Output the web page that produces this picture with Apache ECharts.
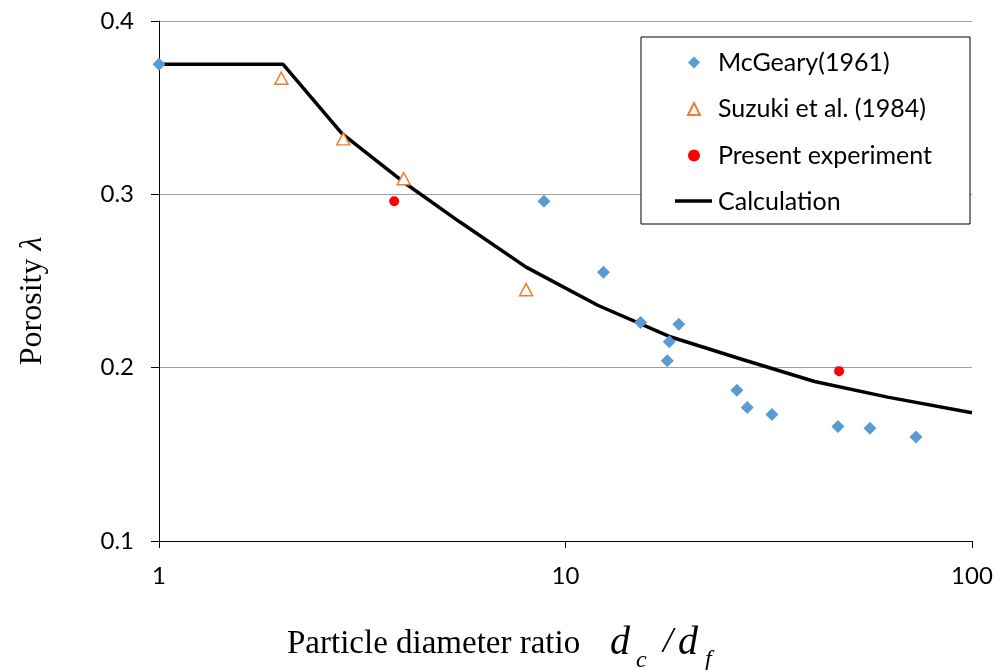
<!DOCTYPE html>
<html>
<head>
<meta charset="utf-8">
<script src="https://cdn.jsdelivr.net/npm/echarts@6/dist/echarts.min.js"></script>
<style>html,body{margin:0;padding:0;background:#fff}#c{width:996px;height:670px}</style>
</head>
<body>
<div id="c"></div>
<script>
// ---- data ----
const mcgearyX = [1, 8.85, 12.4, 15.3, 19.0, 18.0, 17.8, 26.4, 28.0, 32.2, 46.8, 56.1, 72.8];
const mcgearyY = [0.375, 0.296, 0.255, 0.226, 0.225, 0.215, 0.204, 0.187, 0.177, 0.173, 0.166, 0.165, 0.160];
const suzukiX = [2.0, 2.84, 4.0, 8.0];
const suzukiY = [0.367, 0.332, 0.309, 0.245];
const presentX = [3.79, 47.1];
const presentY = [0.296, 0.198];
const calcX = [1, 2.02, 2.82, 3.4, 4, 5.5, 8, 12, 18, 27, 41, 62, 100];
const calcY = [0.375, 0.375, 0.335, 0.320, 0.307, 0.284, 0.258, 0.236, 0.218, 0.205, 0.192, 0.183, 0.174];
const seriesNames = ['McGeary(1961)', 'Suzuki et al. (1984)', 'Present experiment', 'Calculation'];
const yTicks = [0.1, 0.2, 0.3, 0.4];
const xTicks = [1, 10, 100];

const zip = (xs, ys) => xs.map((x, i) => [x, ys[i]]);

const chart = echarts.init(document.getElementById('c'), null, {renderer: 'canvas'});
const tickFont = {fontFamily: 'Lato', fontSize: 24, color: '#000'};

chart.setOption({
  animation: false,
  backgroundColor: '#fff',
  grid: {left: 159, right: 24, top: 21, bottom: 129, containLabel: false},
  xAxis: {
    type: 'log', logBase: 10, min: xTicks[0], max: xTicks[xTicks.length - 1],
    axisLine: {show: true, lineStyle: {color: '#000', width: 1}},
    axisTick: {show: true, length: 7, inside: false, lineStyle: {color: '#000'}},
    minorTick: {show: false},
    splitLine: {show: false},
    axisLabel: Object.assign({margin: 23, formatter: v => String(Math.round(v))}, tickFont)
  },
  yAxis: {
    type: 'value', min: yTicks[0], max: yTicks[yTicks.length - 1], interval: 0.1,
    axisLine: {show: true, lineStyle: {color: '#000', width: 1}},
    axisTick: {show: true, length: 8, lineStyle: {color: '#000'}},
    splitLine: {show: true, lineStyle: {color: '#a0a0a0', width: 1}},
    axisLabel: Object.assign({margin: 25, formatter: v => v.toFixed(1)}, tickFont)
  },
  legend: {
    orient: 'vertical', left: 687, top: 50, z: 10,
    itemWidth: 12, itemHeight: 12, itemGap: 21.5, padding: 0,
    textStyle: {fontFamily: 'Lato', fontSize: 25, color: '#000', lineHeight: 24, padding: [0, 0, 0, 13]},
    data: [
      {name: seriesNames[0], icon: 'diamond'},
      {name: seriesNames[1], icon: 'triangle'},
      {name: seriesNames[2], icon: 'circle'},
      {name: seriesNames[3], icon: 'rect', itemStyle: {opacity: 0}}
    ]
  },
  graphic: [
    {type: 'rect', z: 1, shape: {x: 641, y: 37, width: 329, height: 187},
     style: {fill: '#fff', stroke: '#000', lineWidth: 1}},
    {type: 'line', z: 11, shape: {x1: 675, y1: 201, x2: 712, y2: 201},
     style: {stroke: '#000', lineWidth: 3.5}},
    {type: 'text', x: 287, y: 644, z: 5,
     style: {text: 'Particle diameter ratio', font: '33px "Liberation Serif"', fill: '#000', verticalAlign: 'middle'}},
    {type: 'text', x: 610, y: 643, z: 5,
     style: {text: 'd', font: 'italic 40px "Liberation Serif"', fill: '#000', verticalAlign: 'middle'}},
    {type: 'text', x: 636, y: 661, z: 5,
     style: {text: 'c', font: 'italic 24px "Liberation Serif"', fill: '#000', verticalAlign: 'middle'}},
    {type: 'text', x: 663, y: 643, z: 5,
     style: {text: '/', font: 'italic 36px "Liberation Serif"', fill: '#000', verticalAlign: 'middle'}},
    {type: 'text', x: 678, y: 643, z: 5,
     style: {text: 'd', font: 'italic 40px "Liberation Serif"', fill: '#000', verticalAlign: 'middle'}},
    {type: 'text', x: 705, y: 660, z: 5,
     style: {text: 'f', font: 'italic 24px "Liberation Serif"', fill: '#000', verticalAlign: 'middle'}},
    {type: 'text', x: 33, y: 301, z: 5, rotation: Math.PI / 2,
     style: {text: '{a|Porosity }{b|λ}', fill: '#000', align: 'center', verticalAlign: 'middle',
       rich: {a: {font: '32px "Liberation Serif"', fill: '#000'}, b: {font: 'italic 32px "Liberation Serif"', fill: '#000'}}}}
  ],
  series: [
    {name: seriesNames[3], type: 'line', data: zip(calcX, calcY), symbol: 'none', z: 2,
     lineStyle: {color: '#000', width: 3.5}, itemStyle: {color: '#000'}},
    {name: seriesNames[0], type: 'scatter', data: zip(mcgearyX, mcgearyY), symbol: 'diamond', symbolSize: 13, z: 3,
     itemStyle: {color: '#5b9bd5', opacity: 1}},
    {name: seriesNames[1], type: 'scatter', data: zip(suzukiX, suzukiY), symbol: 'triangle', symbolSize: [13, 12], z: 3,
     itemStyle: {color: '#fff', borderColor: '#ed7d31', borderWidth: 1.5, opacity: 1}},
    {name: seriesNames[2], type: 'scatter', data: zip(presentX, presentY), symbol: 'circle', symbolSize: 10, z: 3,
     itemStyle: {color: '#ff0000', opacity: 1}}
  ]
});
</script>
</body>
</html>
